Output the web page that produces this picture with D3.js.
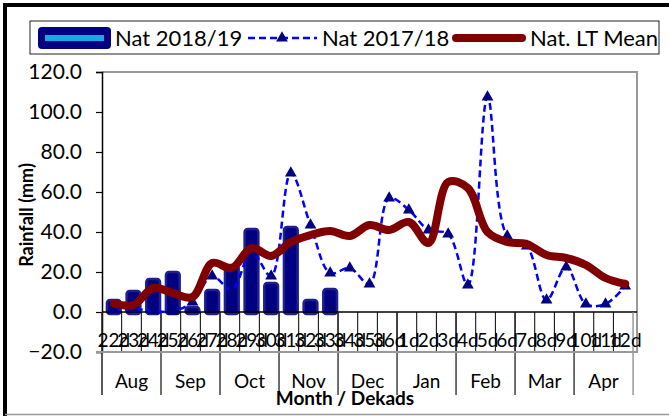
<!DOCTYPE html>
<html><head><meta charset="utf-8">
<script src="https://cdn.jsdelivr.net/npm/d3@7"></script>
<style>body{margin:0;background:#fff}svg{display:block}text{font-family:Lato,"Open Sans",sans-serif}</style>
</head><body><svg id="c" width="669" height="416"></svg>
<script>
const dekads = ["22d","23d","24d","25d","26d","27d","28d","29d","30d","31d","32d","33d","34d","35d","36d","1d","2d","3d","4d","5d","6d","7d","8d","9d","10d","11d","12d"];
const months = ["Aug","Sep","Oct","Nov","Dec","Jan","Feb","Mar","Apr"];
const dekadsPerMonth = 3;
const nat1819 = [6, 10.5, 16.5, 20, 2.5, 11, 23.5, 41.5, 14.5, 42.5, 6, 11.5];
const nat1718 = [1, 1.5, 0.5, 0.3, 5, 18, 11, 30, 18, 69.5, 43.5, 19.5, 22, 14, 57, 51, 41, 39, 13.5, 107.5, 38, 33, 6, 22.5, 4, 4, 13];
const ltMean  = [4.3, 3.5, 12, 9.5, 7.5, 24.5, 22, 32, 28, 35, 38.5, 40.5, 38, 43.5, 41, 45, 34.5, 65, 62, 40, 35, 34, 28.5, 27, 23.5, 17, 14];
const yTicks = [120, 100, 80, 60, 40, 20, 0, -20];
const seriesNames = ["Nat 2018/19", "Nat 2017/18", "Nat. LT Mean"];

const svg = d3.select("#c");
const L = 102, R = 637, T = 72, B = 352;
const x = d3.scaleBand().domain(dekads).range([L, R]).padding(0.2);
const y = d3.scaleLinear().domain([-20, 120]).range([B, T]);
const step = x.step();

// outer frame
svg.append("line").attr("x1",5).attr("x2",5).attr("y1",3).attr("y2",416).attr("stroke","#000").attr("stroke-width",4);
svg.append("line").attr("x1",3).attr("x2",669).attr("y1",5).attr("y2",5).attr("stroke","#000").attr("stroke-width",4);
svg.append("line").attr("x1",5).attr("x2",669).attr("y1",414.5).attr("y2",414.5).attr("stroke","#999").attr("stroke-width",1.5);

// plot border
svg.append("path").attr("d",`M${L},${T}H${R}V${B}H${L}`).attr("fill","none").attr("stroke","#999").attr("stroke-width",2);

// y axis
const yAxis = d3.axisLeft(y).tickValues(yTicks).tickSize(6).tickPadding(14).tickFormat(d3.format(".1f"));
const ya = svg.append("g").attr("transform",`translate(${L},0)`).call(yAxis);
ya.select(".domain").attr("stroke","#000").attr("stroke-width",1.5);
ya.selectAll(".tick line").attr("stroke","#000").attr("stroke-width",1.2);
ya.selectAll("text").attr("font-size",21).attr("font-family","Lato").attr("fill","#000");

svg.append("text").attr("transform",`translate(33,${(T+B)/2 + 3}) rotate(-90)`).attr("text-anchor","middle")
  .attr("font-size",18).attr("font-weight","bold").text("Rainfall (mm)");

// bars
svg.append("g").selectAll("rect").data(nat1819).join("rect")
  .attr("x",(d,i)=>x(dekads[i])+1).attr("width",x.bandwidth()-2)
  .attr("y",d=>y(d)).attr("height",d=>y(0)-y(d)+2)
  .attr("rx",3).attr("fill","#000080").attr("stroke","#1f1f90").attr("stroke-width",2.5);

// zero line + category ticks
svg.append("line").attr("x1",L).attr("x2",R).attr("y1",y(0)).attr("y2",y(0)).attr("stroke","#000").attr("stroke-width",1.5);
const bounds = dekads.map((d,i)=>L + i*step);
svg.append("g").selectAll("line").data(bounds.slice(1)).join("line")
  .attr("x1",d=>d).attr("x2",d=>d).attr("y1",y(0)).attr("y2",B).attr("stroke","#000").attr("stroke-width",1);
svg.append("g").selectAll("line").data(d3.range(months.length+1)).join("line")
  .attr("x1",k=>L+k*dekadsPerMonth*step).attr("x2",k=>L+k*dekadsPerMonth*step)
  .attr("y1",y(0)).attr("y2",395).attr("stroke",k=>k===months.length?"#888":"#222").attr("stroke-width",k=>k===0?1.5:1.3);
svg.append("line").attr("x1",L-6).attr("x2",R).attr("y1",B).attr("y2",B).attr("stroke","#999").attr("stroke-width",2);

// dekad labels
svg.append("g").selectAll("text").data(dekads).join("text")
  .attr("x",d=>x(d)+x.bandwidth()/2).attr("y",347).attr("text-anchor","middle").attr("font-size",19).text(d=>d);
// month labels
svg.append("g").selectAll("text").data(months).join("text")
  .attr("x",(m,k)=>L+(k+0.5)*dekadsPerMonth*step).attr("y",388).attr("text-anchor","middle").attr("font-size",19).text(m=>m);
svg.append("text").attr("x",345).attr("y",405).attr("text-anchor","middle").attr("font-size",19).attr("font-weight","bold").text("Month / Dekads");

const cx = (i)=>x(dekads[i])+x.bandwidth()/2;
// dashed line
const line = d3.line().x((d,i)=>cx(i)).y(d=>y(d)).curve(d3.curveCatmullRom.alpha(0.5));
svg.append("path").attr("d",line(nat1718)).attr("fill","none").attr("stroke","#0000ff").attr("stroke-width",2.5).attr("stroke-dasharray","7,4");
const tri = d3.symbol().type(d3.symbolTriangle).size(60);
svg.append("g").selectAll("path").data(nat1718).join("path")
  .attr("transform",(d,i)=>`translate(${cx(i)},${y(d)})`).attr("d",tri).attr("fill","#000080");
// LT mean
svg.append("path").attr("d",line(ltMean)).attr("fill","none").attr("stroke","#800000").attr("stroke-width",8).attr("stroke-linecap","round").attr("stroke-linejoin","round");

// legend
const lg = svg.append("g");
lg.append("rect").attr("x",30).attr("y",21).attr("width",629).attr("height",33).attr("fill","#fff").attr("stroke","#222").attr("stroke-width",1);
lg.append("rect").attr("x",38).attr("y",27).attr("width",73).attr("height",22).attr("rx",4).attr("fill","#000080");
lg.append("rect").attr("x",45).attr("y",35).attr("width",59).attr("height",6).attr("fill","#1aa7e6");
lg.append("line").attr("x1",248).attr("x2",317).attr("y1",38).attr("y2",38).attr("stroke","#0000ff").attr("stroke-width",2.5).attr("stroke-dasharray","7,4");
lg.append("path").attr("transform","translate(282,38)").attr("d",tri).attr("fill","#000080");
lg.append("line").attr("x1",456).attr("x2",522).attr("y1",38).attr("y2",38).attr("stroke","#800000").attr("stroke-width",8).attr("stroke-linecap","round");
[[115,0],[322,1],[530,2]].forEach(([lx,i])=>{
  lg.append("text").attr("x",lx).attr("y",46).attr("font-size",22).text(seriesNames[i]);
});
</script></body></html>
